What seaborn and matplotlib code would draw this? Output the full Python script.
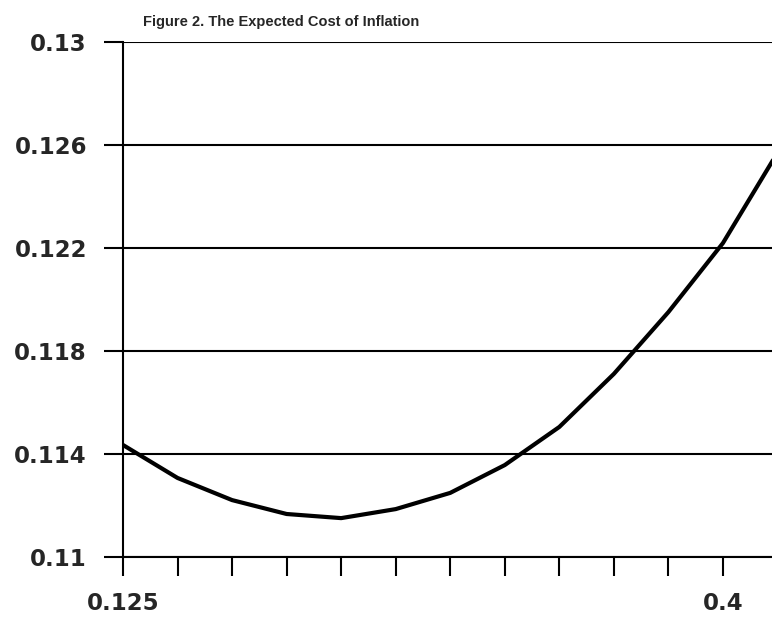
import matplotlib
matplotlib.use("Agg")
import matplotlib.pyplot as plt
import seaborn as sns
import pandas as pd

inflation_target = [0.125, 0.15, 0.175, 0.2, 0.225, 0.25, 0.275, 0.3, 0.325, 0.35, 0.375, 0.4, 0.425]
expected_cost = [0.11435, 0.11307, 0.11221, 0.11167, 0.11151, 0.11186, 0.11249, 0.11357,
                 0.11505, 0.11711, 0.11951, 0.12219, 0.1257]
y_ticks = [0.11, 0.114, 0.118, 0.122, 0.126, 0.13]
y_tick_labels = ["0.11", "0.114", "0.118", "0.122", "0.126", "0.13"]
x_ticks = [0.125, 0.15, 0.175, 0.2, 0.225, 0.25, 0.275, 0.3, 0.325, 0.35, 0.375, 0.4]
x_tick_labels = ["0.125", "", "", "", "", "", "", "", "", "", "", "0.4"]
title = "Figure 2. The Expected Cost of Inflation"

sns.set_style("white")
plt.rcParams["font.family"] = ["Liberation Sans", "DejaVu Sans"]

df = pd.DataFrame({"x": inflation_target, "y": expected_cost})

fig = plt.figure(figsize=(7.72, 6.2), dpi=100)
ax = fig.add_axes([123 / 772, 63 / 620, 649 / 772, 515 / 620])

sns.lineplot(data=df, x="x", y="y", ax=ax, color="black", linewidth=3.0, zorder=3)

ax.set_xlim(0.125, 0.4225)
ax.set_ylim(0.11, 0.13)
ax.set_yticks(y_ticks)
ax.set_yticklabels(y_tick_labels)
ax.set_xticks(x_ticks)
ax.set_xticklabels(x_tick_labels)

for yv in y_ticks:
    ax.axhline(yv, color="black", linewidth=1.5, zorder=1)

for s in ["top", "right"]:
    ax.spines[s].set_visible(False)
ax.spines["left"].set_linewidth(1.5)
ax.spines["bottom"].set_linewidth(1.5)
ax.spines["left"].set_color("black")
ax.spines["bottom"].set_color("black")

ax.tick_params(axis="y", direction="out", length=14, width=1.5, color="black",
               left=True, pad=12, labelsize=16.5)
ax.tick_params(axis="x", direction="out", length=14, width=1.5, color="black",
               bottom=True, pad=11, labelsize=16.5)
for lab in ax.get_yticklabels() + ax.get_xticklabels():
    lab.set_fontweight("bold")
    lab.set_family(["DejaVu Sans"])

ax.set_xlabel("")
ax.set_ylabel("")
ax.grid(False)

fig.text(281 / 772, 1 - 22 / 620, title, ha="center", va="center",
         fontsize=10.5, fontweight="bold")

fig.savefig("out.png", dpi=100)
